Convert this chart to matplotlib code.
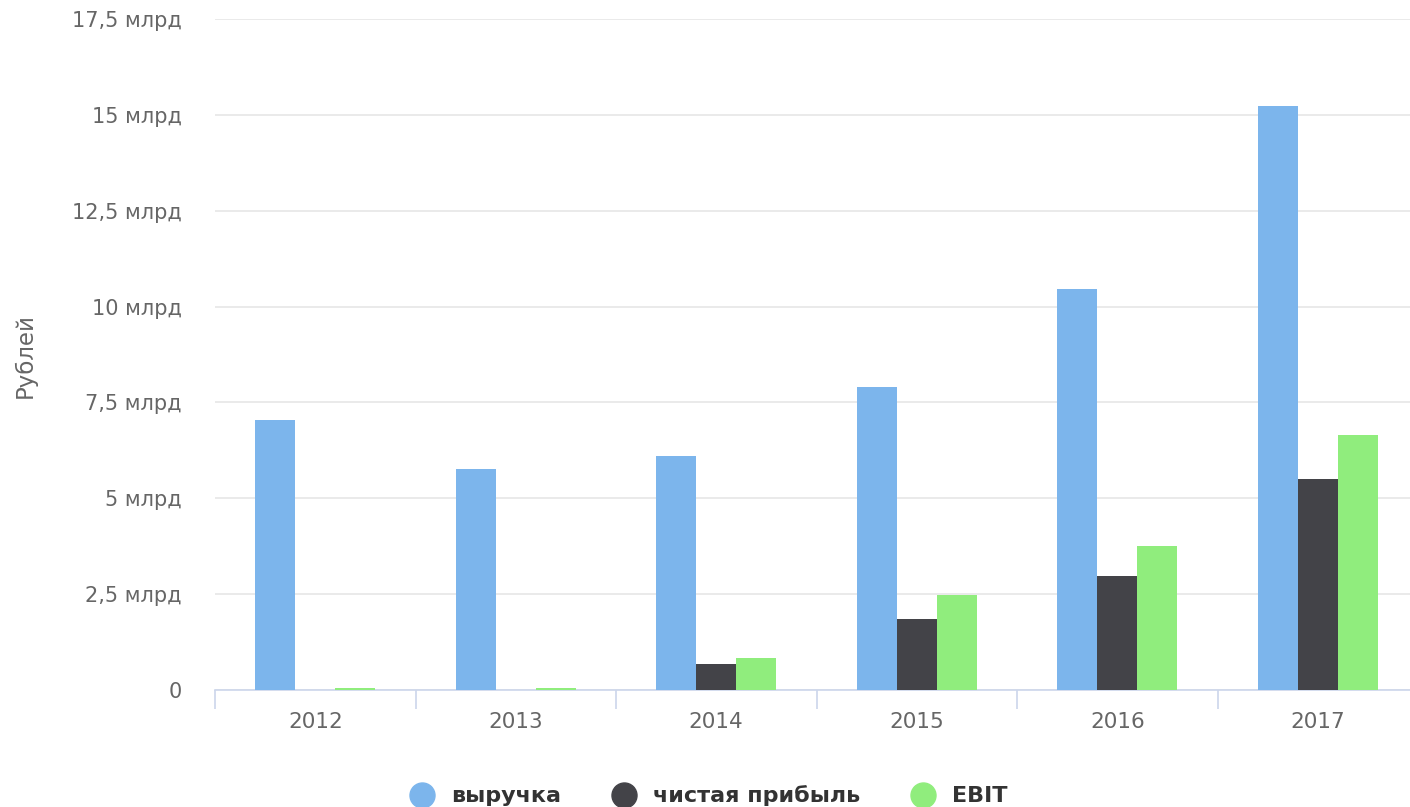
import matplotlib
matplotlib.use('Agg')
import numpy as np
import matplotlib.pyplot as plt
from matplotlib.lines import Line2D

years = ["2012", "2013", "2014", "2015", "2016", "2017"]
revenue = [7.05, 5.77, 6.10, 7.90, 10.47, 15.22]
net_profit = [0.0, 0.0, 0.67, 1.84, 2.97, 5.50]
ebit = [0.04, 0.04, 0.83, 2.48, 3.76, 6.66]

series_names = ["выручка", "чистая прибыль", "EBIT"]
colors = ["#7cb5ec", "#434348", "#90ed7d"]

yticks = [0, 2.5, 5, 7.5, 10, 12.5, 15, 17.5]
ytick_labels = ["0", "2,5 млрд", "5 млрд", "7,5 млрд", "10 млрд",
                "12,5 млрд", "15 млрд", "17,5 млрд"]

plt.rcParams['font.family'] = ['DejaVu Sans']

fig = plt.figure(figsize=(14.1, 8.07), dpi=100)
ax = fig.add_axes([215/1410, 1-690/807, 1203/1410, 671/807])

x = np.arange(len(years))
w = 0.2
for i, vals in enumerate([revenue, net_profit, ebit]):
    ax.bar(x + (i-1)*w, vals, width=w, color=colors[i], zorder=3, linewidth=0)

ax.set_xlim(-0.5, len(years)-0.5)
ax.set_ylim(0, 17.5)
ax.set_yticks(yticks)
ax.set_yticklabels(ytick_labels)
ax.grid(axis='y', color='#e6e6e6', linewidth=1.2, zorder=0)
ax.tick_params(axis='y', length=0, pad=24, labelsize=15, labelcolor='#666666')

ax.set_xticks(x)
ax.set_xticklabels(years)
ax.tick_params(axis='x', length=0, pad=16, labelsize=15.5, labelcolor='#666666')
ax.set_xticks(np.arange(-0.5, len(years)), minor=True)
ax.tick_params(axis='x', which='minor', length=13.5, color='#ccd6eb', width=1.2)

for s in ['top', 'right', 'left']:
    ax.spines[s].set_visible(False)
ax.spines['bottom'].set_color('#ccd6eb')
ax.spines['bottom'].set_linewidth(1.2)

fig.text(25/1410, 1-355/807, "Рублей", rotation=90, ha='center', va='center',
         fontsize=16.5, color='#666666')

handles = [Line2D([], [], marker='o', linestyle='None', markersize=18,
                  markerfacecolor=c, markeredgecolor=c) for c in colors]
leg = fig.legend(handles, series_names, loc='center', bbox_to_anchor=(708/1410, 1-796/807),
                 ncol=3, frameon=False, handlelength=1.2, handletextpad=0.68,
                 columnspacing=2.25, prop={'size': 16, 'weight': 'bold'})
for t in leg.get_texts():
    t.set_color('#333333')

plt.savefig("out.png", dpi=100)
plt.close()
